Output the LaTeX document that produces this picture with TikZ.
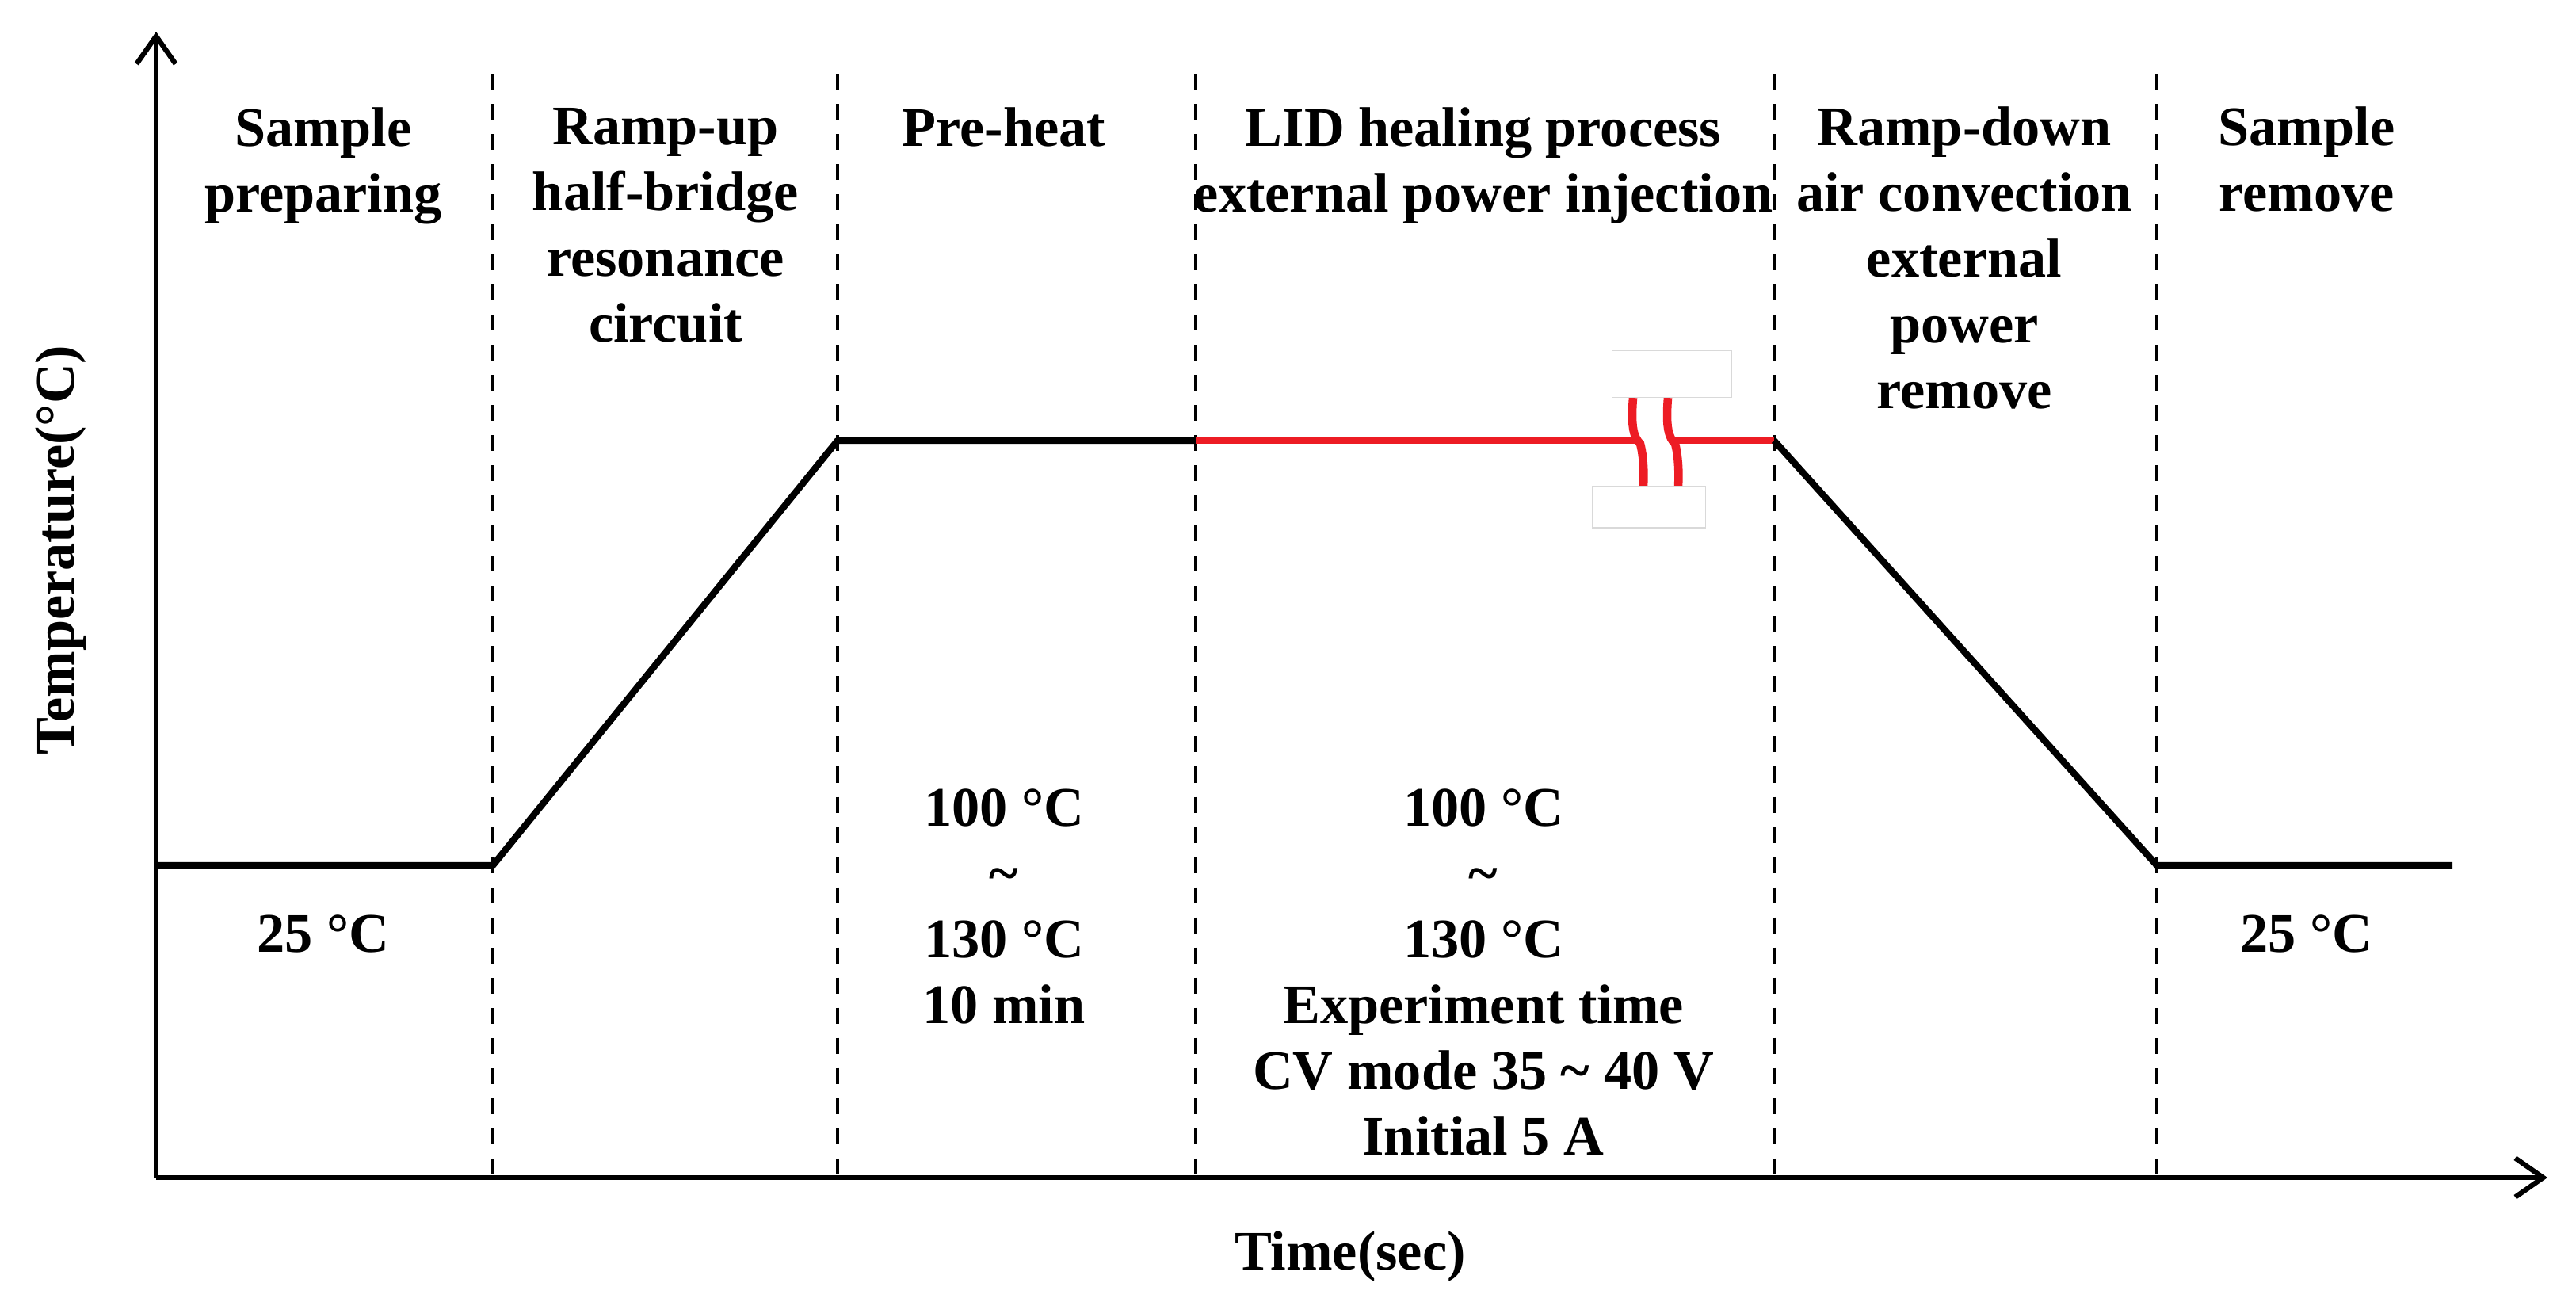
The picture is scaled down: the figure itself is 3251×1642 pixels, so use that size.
\documentclass[tikz,border=0pt]{standalone}
\usepackage{fontspec}
\setmainfont{Liberation Serif}
\usetikzlibrary{arrows.meta}
\definecolor{lred}{HTML}{ED1C24}
\begin{document}
\begin{tikzpicture}[x=0.01cm,y=-0.01cm,
  lbl/.style={font=\fontsize{20}{23.6}\selectfont\bfseries,align=center,inner sep=0pt},
  axis/.style={line width=1.8pt,-{Straight Barb[length=10pt,width=14pt,line width=1.8pt]}},
  sep/.style={line width=0.9pt,dash pattern=on 0.2cm off 0.18cm},
  prof/.style={line width=2.4pt,line join=round},
  brk/.style={line width=3pt,draw=lred,line cap=butt},
  wbox/.style={draw=black!15,fill=white,line width=0.3pt,inner sep=0pt}]
\useasboundingbox (0,0) rectangle (3251,1642);
\coordinate (o) at (197,1486);
\coordinate (ytop) at (197,40);
\coordinate (xend) at (3215,1486);
\foreach \n/\x in {d1/622,d2/1057,d3/1509,d4/2239,d5/2722}{
  \coordinate (\n t) at (\x,93); \coordinate (\n b) at (\x,1486);
  \draw[sep] (\n t) -- (\n b);}
\coordinate (p0) at (197,1092); \coordinate (p1) at (622,1092);
\coordinate (p2) at (1057,556); \coordinate (p3) at (1509,556);
\coordinate (r1) at (2070,556); \coordinate (r2) at (2114,556);
\coordinate (p4) at (2239,556); \coordinate (p5) at (2722,1092);
\coordinate (p6) at (3095,1092);
\draw[prof] (p0) -- (p1) -- (p2) -- (p3);
\draw[prof,lred] (p3) -- (r1) (r2) -- (p4);
\draw[prof] (p4) -- (p5) -- (p6);
\draw[brk] (2061,502) .. controls (2058,540) and (2062,552) .. (2070,560) .. controls (2074,575) and (2075,595) .. (2074,614);
\draw[brk] (2105,502) .. controls (2102,540) and (2106,552) .. (2114,560) .. controls (2118,575) and (2119,595) .. (2118,614);
\node[wbox,minimum width=1.51cm,minimum height=0.59cm] (wb1) at (2110,472) {};
\node[wbox,minimum width=1.43cm,minimum height=0.52cm] (wb2) at (2081,640) {};
\draw[axis] (o) -- (ytop);
\draw[axis] (o) -- (xend);
\node[lbl] (t1) at (408,209) {Sample\\preparing};
\node[lbl] (t2) at (840,284) {Ramp-up\\half-bridge\\resonance\\circuit};
\node[lbl] (t3) at (1267,160) {Pre-heat};
\node[lbl] (t4) at (1872,209) {LID healing process\\external power injection};
\node[lbl] (t5) at (2479,325) {Ramp-down\\air convection\\external\\power\\remove};
\node[lbl] (t6) at (2911,201) {Sample\\remove};
\node[lbl] (b1) at (408,1178) {25 °C};
\node[lbl] (b2) at (1267,1144) {100 °C\\\char`~\\130 °C\\10 min};
\node[lbl] (b3) at (1872,1227) {100 °C\\\char`~\\130 °C\\Experiment time\\CV mode 35 \char`~{} 40 V\\Initial 5 A};
\node[lbl] (b4) at (2911,1178) {25 °C};
\node[lbl] (xl) at (1704,1586) {Time(sec)};
\node[lbl,rotate=90] (yl) at (77,694) {Temperature(°C)};
\end{tikzpicture}
\end{document}
